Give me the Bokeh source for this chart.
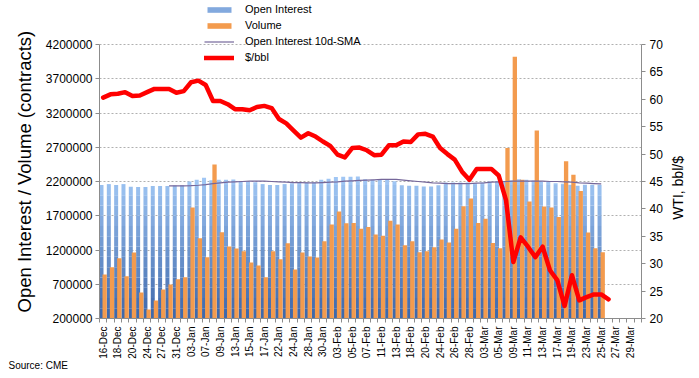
import math
import numpy as np
from bokeh.plotting import figure
from bokeh.models import (Range1d, LinearAxis, FixedTicker, Legend, LegendItem,
                          Title, PrintfTickFormatter)
from bokeh.embed import file_html
from bokeh.resources import INLINE

# ---------------- data ----------------
dates = ["16-Dec", "17-Dec", "18-Dec", "19-Dec", "20-Dec", "23-Dec", "24-Dec", "26-Dec",
         "27-Dec", "30-Dec", "31-Dec", "02-Jan", "03-Jan", "06-Jan", "07-Jan", "08-Jan",
         "09-Jan", "10-Jan", "13-Jan", "14-Jan", "15-Jan", "16-Jan", "17-Jan", "21-Jan",
         "22-Jan", "23-Jan", "24-Jan", "27-Jan", "28-Jan", "29-Jan", "30-Jan", "31-Jan",
         "03-Feb", "04-Feb", "05-Feb", "06-Feb", "07-Feb", "10-Feb", "11-Feb", "12-Feb",
         "13-Feb", "14-Feb", "18-Feb", "19-Feb", "20-Feb", "21-Feb", "24-Feb", "25-Feb",
         "26-Feb", "27-Feb", "28-Feb", "02-Mar", "03-Mar", "04-Mar", "05-Mar", "06-Mar",
         "09-Mar", "10-Mar", "11-Mar", "12-Mar", "13-Mar", "16-Mar", "17-Mar", "18-Mar",
         "19-Mar", "20-Mar", "23-Mar", "24-Mar", "25-Mar", "26-Mar", "27-Mar", "28-Mar",
         "29-Mar", "30-Mar"]

open_interest = [2150000, 2165000, 2150000, 2165000, 2125000, 2120000, 2120000, 2135000,
                 2135000, 2135000, 2140000, 2145000, 2200000, 2225000, 2255000, 2220000,
                 2225000, 2225000, 2230000, 2200000, 2200000, 2190000, 2165000, 2150000,
                 2150000, 2165000, 2175000, 2190000, 2185000, 2190000, 2225000, 2240000,
                 2265000, 2270000, 2268000, 2273000, 2234000, 2224000, 2224000, 2224000,
                 2205000, 2147000, 2137000, 2137000, 2127000, 2127000, 2147000, 2185000,
                 2185000, 2185000, 2185000, 2176000, 2185000, 2200000, 2200000, 2200000,
                 2215000, 2234000, 2224000, 2215000, 2200000, 2195000, 2176000, 2166000,
                 2151000, 2137000, 2151000, 2151000, 2151000]

volume = [842000, 947000, 1078000, 815000, 1163000, 580000, 330000, 463000,
          625000, 697000, 772000, 801000, 1820000, 1370000, 1093000, 2448000,
          1458000, 1251000, 1222000, 1183000, 1018000, 974000, 804000, 1183000,
          1066000, 1299000, 915000, 1163000, 1105000, 1090000, 1326000, 1572000,
          1762000, 1591000, 1593000, 1511000, 1534000, 1426000, 1409000, 1627000,
          1574000, 1268000, 1326000, 1166000, 1180000, 1239000, 1355000, 1311000,
          1510000, 1840000, 1952000, 1593000, 1656000, 1302000, 1224000, 2690000,
          4020000, 2224000, 1909000, 2943000, 1836000, 1820000, 1680000, 2496000,
          2300000, 2060000, 1457000, 1224000, 1166000]

# 10-day SMA of open interest, starting on the 10th trading day (30-Dec)
oi_sma = [2135000, 2135000, 2137000, 2140000, 2145000, 2155000, 2170000, 2180000,
          2190000, 2195000, 2200000, 2205000, 2205000, 2205000, 2200000, 2195000,
          2190000, 2185000, 2185000, 2180000, 2180000, 2185000, 2190000, 2195000,
          2205000, 2210000, 2215000, 2220000, 2225000, 2230000, 2230000, 2230000,
          2220000, 2210000, 2200000, 2190000, 2180000, 2175000, 2170000, 2170000,
          2170000, 2170000, 2175000, 2180000, 2190000, 2195000, 2200000, 2205000,
          2205000, 2205000, 2205000, 2205000, 2200000, 2200000, 2195000, 2190000,
          2180000, 2175000, 2170000, 2165000]

wti = [60.3, 60.9, 61.0, 61.3, 60.6, 60.7, 61.3, 61.9, 61.9, 61.9, 61.2, 61.5,
       63.1, 63.4, 62.6, 59.7, 59.7, 59.1, 58.2, 58.2, 58.0, 58.6, 58.8, 58.4,
       56.4, 55.6, 54.3, 53.0, 53.8, 53.2, 52.3, 51.5, 49.9, 49.4, 51.1, 51.2,
       50.7, 49.8, 49.9, 51.6, 51.6, 52.3, 52.2, 53.6, 53.7, 53.2, 51.1, 50.0,
       49.0, 46.8, 45.3, 47.3, 47.3, 47.3, 46.1, 41.6, 30.3, 34.8, 33.1, 31.2,
       33.1, 28.8, 27.0, 22.3, 27.9, 23.3, 23.9, 24.4, 24.4, 23.5]

left_ticks = [200000, 700000, 1200000, 1700000, 2200000, 2700000, 3200000, 3700000, 4200000]
right_ticks = [20, 25, 30, 35, 40, 45, 50, 55, 60, 65, 70]

# ---------------- layout constants ----------------
FONT = "Liberation Sans"
AXIS_GREY = "#8c8c8c"
n_cat = len(dates)
W, H = 699, 378
B_LEFT, B_RIGHT, B_BOTTOM = 99, 58, 60
FRAME_H = H - B_BOTTOM            # frame runs from the very top (room for the legend)
AXIS_H = 274                      # pixel height of the axes' span (4.2M / 70 at top)
L_MIN, L_MAX = left_ticks[0], left_ticks[-1]
R_MIN, R_MAX = right_ticks[0], right_ticks[-1]
l_top = L_MIN + (L_MAX - L_MIN) * FRAME_H / AXIS_H
r_top = R_MIN + (R_MAX - R_MIN) * FRAME_H / AXIS_H
R_TITLE_AT = 38                   # right-axis value where the right title starts

p = figure(width=W, height=H, output_backend="svg", toolbar_location=None,
           x_range=Range1d(-0.5, n_cat - 0.5), y_range=Range1d(L_MIN, l_top),
           min_border_left=B_LEFT, min_border_right=B_RIGHT, min_border_top=0,
           min_border_bottom=B_BOTTOM)
p.outline_line_color = None
p.background_fill_color = "white"
p.extra_y_ranges = {"wti": Range1d(R_MIN, r_top)}

# Open interest bars with a vertical gradient (drawn as stacked colour bands)
xb = np.arange(len(open_interest))
oi = np.array(open_interest, dtype=float)
edges = np.linspace(200000, 2300000, 15)
c_bot = np.array([62, 105, 172])
c_top = np.array([160, 198, 244])
band_renderers = []
for k in range(len(edges) - 1):
    lo, hi = edges[k], edges[k + 1]
    m = oi > lo
    t = k / (len(edges) - 2)
    col = c_bot + (c_top - c_bot) * t
    colhex = "#%02x%02x%02x" % tuple(int(round(v)) for v in col)
    r = p.vbar(x=xb[m] - 0.227, width=0.546, bottom=lo, top=np.minimum(oi[m], hi),
               fill_color=colhex, line_color=None)
    band_renderers.append(r)

# Volume bars
r_vol = p.vbar(x=np.arange(len(volume)) + 0.205, width=0.59, bottom=0, top=volume,
               fill_color="#F39B4E", line_color=None)

# SMA line
x_sma = np.arange(9, 9 + len(oi_sma))
r_sma = p.line(x_sma, oi_sma, line_color="#75679a", line_width=1.2)

# WTI price
r_wti = p.line(np.arange(len(wti)), wti, y_range_name="wti", line_color="#FF0000",
               line_width=4.5, line_join="round", line_cap="round")

# ---------------- axes ----------------
yl = p.yaxis[0]
yl.ticker = FixedTicker(ticks=left_ticks)
yl.bounds = (L_MIN, L_MAX)
yl.formatter = PrintfTickFormatter(format="%d")
yl.major_label_text_font = FONT
yl.major_label_text_font_size = "12px"
yl.major_label_text_color = "black"
yl.major_label_standoff = 3
yl.major_tick_out = 4
yl.major_tick_in = 0
yl.minor_tick_line_color = None
yl.axis_line_color = AXIS_GREY
yl.major_tick_line_color = AXIS_GREY

# left title: starts just above the bottom of the axis and reads upwards
lt = Title(text="Open Interest / Volume (contracts)", align="left",
           offset=6, standoff=16,
           text_font=FONT, text_font_size="18.5px", text_font_style="normal",
           text_color="black")
p.add_layout(lt, "left")

yr = LinearAxis(y_range_name="wti", ticker=FixedTicker(ticks=right_ticks),
                bounds=(R_MIN, R_MAX))
yr.major_label_text_font = FONT
yr.major_label_text_font_size = "12px"
yr.major_label_text_color = "black"
yr.major_label_standoff = 4
yr.major_tick_out = 4
yr.major_tick_in = 0
yr.minor_tick_line_color = None
yr.axis_line_color = AXIS_GREY
yr.major_tick_line_color = AXIS_GREY
p.add_layout(yr, "right")

# bare right axis whose single label is the title, reading bottom-to-top
yt = LinearAxis(y_range_name="wti", ticker=FixedTicker(ticks=[R_TITLE_AT]))
yt.major_label_overrides = {R_TITLE_AT: "WTI, bbl/$"}
yt.major_label_orientation = math.pi / 2
yt.axis_line_color = None
yt.major_tick_line_color = None
yt.minor_tick_line_color = None
yt.major_tick_out = 0
yt.minor_tick_out = 0
yt.major_label_standoff = 13
yt.major_label_text_font = FONT
yt.major_label_text_font_size = "14px"
yt.major_label_text_color = "black"
p.add_layout(yt, "right")

xa = p.xaxis[0]
label_idx = list(range(0, n_cat, 2))
xa.ticker = FixedTicker(ticks=label_idx, minor_ticks=[i - 0.5 for i in range(n_cat + 1)])
xa.major_label_overrides = {i: dates[i] for i in label_idx}
xa.major_label_orientation = math.pi / 2
xa.major_label_text_font = FONT
xa.major_label_text_font_size = "10px"
xa.major_label_text_color = "black"
xa.major_label_standoff = 4
xa.major_tick_out = 0
xa.major_tick_in = 0
xa.minor_tick_out = 4
xa.minor_tick_in = 0
xa.minor_tick_line_color = AXIS_GREY
xa.axis_line_color = AXIS_GREY

p.xgrid.grid_line_color = None
p.ygrid.ticker = FixedTicker(ticks=left_ticks)
p.ygrid.grid_line_color = "#b0b0b0"
p.ygrid.grid_line_dash = "2 2"
p.ygrid.grid_line_width = 1

# ---------------- legend ----------------
legend = Legend(items=[
    LegendItem(label="Open Interest", renderers=[band_renderers[9]]),
    LegendItem(label="Volume", renderers=[r_vol]),
    LegendItem(label="Open Interest 10d-SMA", renderers=[r_sma]),
    LegendItem(label="$/bbl", renderers=[r_wti]),
], location=(105, 253), orientation="vertical")
legend.background_fill_alpha = 0
legend.border_line_alpha = 0
legend.label_text_font = FONT
legend.label_text_font_size = "11px"
legend.label_text_color = "black"
legend.glyph_width = 30
legend.glyph_height = 7
legend.label_height = 16
legend.label_standoff = 11
legend.padding = 0
legend.margin = 0
legend.spacing = 0
p.add_layout(legend, "center")

# source note under the axis labels
src = Title(text="Source: CME", align="left", offset=-(B_LEFT - 8), standoff=-7,
            text_font=FONT, text_font_size="10px", text_font_style="normal",
            text_color="black")
p.add_layout(src, "below")

open("out.html", "w").write(file_html(p, INLINE))
